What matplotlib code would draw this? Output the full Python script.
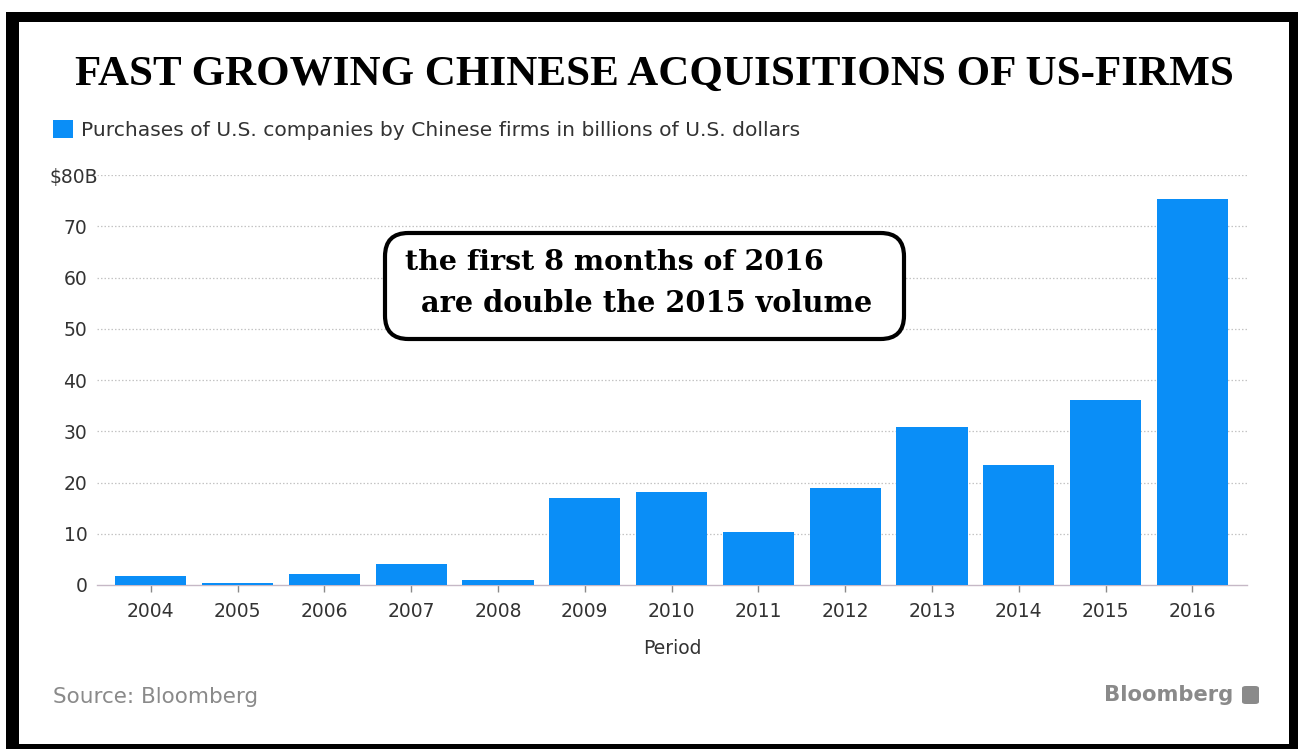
import matplotlib
matplotlib.use("Agg")
import matplotlib.pyplot as plt
from matplotlib.patches import Rectangle, FancyBboxPatch

# Data: purchases of U.S. companies by Chinese firms, billions of USD
years = ["2004", "2005", "2006", "2007", "2008", "2009", "2010",
         "2011", "2012", "2013", "2014", "2015", "2016"]
values = [1.8, 0.4, 2.1, 4.1, 1.0, 17.0, 18.1, 10.4, 19.0, 30.8, 23.4, 36.1, 75.3]
y_ticks = [0, 10, 20, 30, 40, 50, 60, 70, 80]
y_tick_labels = ["0", "10", "20", "30", "40", "50", "60", "70", ""]
top_label = "$80B"

W, H = 1298, 749
fig = plt.figure(figsize=(W / 100, H / 100), dpi=100)
fig.patch.set_facecolor("white")

def fx(px):
    return px / W

def fy(py):
    return 1 - py / H

# Black frame around the chart
fig.add_artist(Rectangle((fx(6), fy(749)), fx(1298) - fx(6), fy(12) - fy(749),
                         transform=fig.transFigure, facecolor="black",
                         edgecolor="none", zorder=0))
fig.add_artist(Rectangle((fx(19), fy(744)), fx(1289) - fx(19), fy(22) - fy(744),
                         transform=fig.transFigure, facecolor="white",
                         edgecolor="none", zorder=0))

blue = "#0a8ef7"
text_dark = "#333333"

ax = fig.add_axes([fx(97), fy(585), fx(1247) - fx(97), fy(175) - fy(585)])
ax.set_facecolor("none")
x = list(range(len(years)))
ax.bar(x, values, width=0.82, color=blue, zorder=3)

ax.set_xlim(-0.62, len(years) - 1 + 0.63)
ax.set_ylim(0, 80)
ax.set_yticks(y_ticks)
ax.set_yticklabels(y_tick_labels)
ax.set_xticks(x)
ax.set_xticklabels(years)

for s in ["top", "right", "left"]:
    ax.spines[s].set_visible(False)
ax.spines["bottom"].set_color("#c6b8c6")
ax.spines["bottom"].set_linewidth(1.0)

ax.tick_params(axis="y", length=0, pad=7, labelsize=13.5, labelcolor=text_dark)
ax.tick_params(axis="x", length=5, width=1, color="#8a8a8a", pad=7,
               labelsize=13.5, labelcolor=text_dark)
ax.yaxis.grid(True, color="#c4c4c4", linestyle=(0, (1.2, 1.6)), linewidth=0.9, zorder=1)
ax.set_axisbelow(True)
for gl in ax.yaxis.get_gridlines()[:1]:
    gl.set_visible(False)

# Unit label on the top tick
fig.text(fx(98), fy(177), top_label, ha="right", va="center",
         fontsize=13.5, color=text_dark)

ax.set_xlabel("Period", fontsize=13.5, color=text_dark, labelpad=13)

# Title
fig.text(fx(654), fy(75), "FAST GROWING CHINESE ACQUISITIONS OF US-FIRMS",
         ha="center", va="center", family="Liberation Serif", weight="bold",
         fontsize=31, color="black")

# Legend
fig.add_artist(Rectangle((fx(53), fy(138)), fx(73) - fx(53), fy(120) - fy(138),
                         transform=fig.transFigure, facecolor=blue,
                         edgecolor="none"))
fig.text(fx(81), fy(130), "Purchases of U.S. companies by Chinese firms in billions of U.S. dollars",
         ha="left", va="center", fontsize=14.6, color=text_dark)

# Annotation box
fig.add_artist(FancyBboxPatch((fx(385), fy(339)), fx(904) - fx(385), fy(233) - fy(339),
                              boxstyle="round,pad=0,rounding_size=0.018",
                              transform=fig.transFigure, facecolor="white",
                              edgecolor="black", linewidth=3, zorder=5,
                              mutation_aspect=W / H))
fig.text(fx(405), fy(262), "the first 8 months of 2016", ha="left", va="center",
         family="DejaVu Serif", weight="bold", fontsize=20.5, color="black", zorder=6)
fig.text(fx(421), fy(303), "are double the 2015 volume", ha="left", va="center",
         family="DejaVu Serif", weight="bold", fontsize=20.8, color="black", zorder=6)

# Footer
fig.text(fx(53), fy(697), "Source: Bloomberg", ha="left", va="center",
         fontsize=15.5, color="#8a8a8a")
fig.text(fx(1233), fy(695), "Bloomberg", ha="right", va="center",
         fontsize=15.2, color="#8a8a8a", weight="bold")
fig.add_artist(FancyBboxPatch((fx(1242), fy(704)), fx(1259) - fx(1242), fy(686) - fy(704),
                              boxstyle="round,pad=0,rounding_size=0.003",
                              transform=fig.transFigure, facecolor="#8a8a8a",
                              edgecolor="none"))

fig.savefig("out.png", dpi=100, facecolor="white")
